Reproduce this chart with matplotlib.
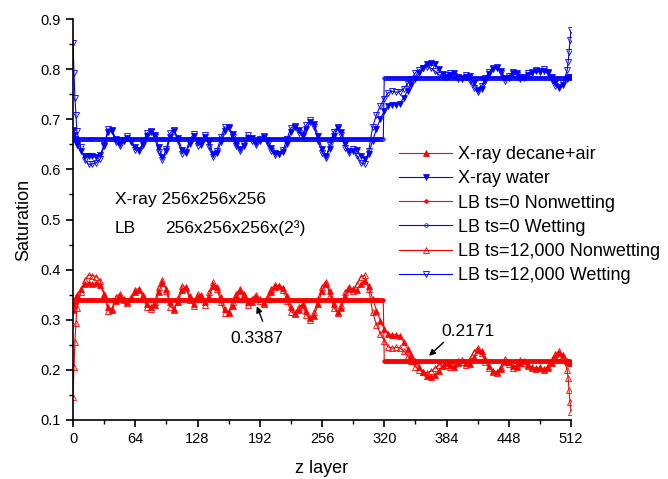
import numpy as np
import matplotlib
matplotlib.use('Agg')
import matplotlib.pyplot as plt

plt.rcParams['font.family'] = ['Liberation Sans', 'DejaVu Sans']

# layer grid: first few layers, every 4th layer, last few layers
z = np.array([0, 1, 2, 3] + list(range(4, 509, 4)) + [509, 510, 511, 512])

# X-ray decane+air (nonwetting)
xray_nw = [0.320, 0.330, 0.338, 0.345,
           0.350, 0.362, 0.372, 0.373, 0.372, 0.374, 0.370, 0.350, 0.325, 0.320,
           0.338, 0.348, 0.342, 0.336, 0.342, 0.355, 0.360, 0.350, 0.332, 0.325,
           0.330, 0.355, 0.374, 0.362, 0.335, 0.322, 0.336, 0.360, 0.366, 0.348,
           0.332, 0.345, 0.350, 0.335, 0.345, 0.368, 0.366, 0.345, 0.322, 0.314,
           0.328, 0.348, 0.358, 0.352, 0.336, 0.336, 0.346, 0.342, 0.334, 0.342,
           0.356, 0.366, 0.368, 0.364, 0.348, 0.325, 0.314, 0.320, 0.332, 0.318,
           0.304, 0.308, 0.332, 0.358, 0.372, 0.358, 0.332, 0.316, 0.324, 0.348,
           0.362, 0.362, 0.360, 0.372, 0.378, 0.368, 0.342, 0.318, 0.298, 0.282,
           0.272, 0.270, 0.270, 0.268, 0.256, 0.242, 0.230, 0.218, 0.206, 0.196,
           0.188, 0.186, 0.189, 0.198, 0.208, 0.214, 0.210, 0.206, 0.214, 0.219,
           0.214, 0.212, 0.226, 0.240, 0.238, 0.222, 0.208, 0.198, 0.196, 0.202,
           0.216, 0.216, 0.207, 0.206, 0.214, 0.217, 0.210, 0.206, 0.203, 0.203,
           0.202, 0.204, 0.214, 0.226, 0.234, 0.230, 0.218,
           0.216, 0.215, 0.214, 0.214]

# X-ray water (wetting)
xray_w = [0.678, 0.668, 0.660, 0.654,
          0.649, 0.637, 0.627, 0.626, 0.627, 0.625, 0.629, 0.649, 0.674, 0.679,
          0.661, 0.651, 0.657, 0.663, 0.657, 0.644, 0.639, 0.649, 0.667, 0.674,
          0.669, 0.644, 0.625, 0.637, 0.664, 0.677, 0.663, 0.639, 0.633, 0.651,
          0.667, 0.654, 0.649, 0.664, 0.654, 0.631, 0.633, 0.654, 0.677, 0.685,
          0.671, 0.651, 0.641, 0.647, 0.663, 0.663, 0.653, 0.657, 0.665, 0.657,
          0.643, 0.633, 0.631, 0.635, 0.651, 0.674, 0.685, 0.679, 0.667, 0.681,
          0.695, 0.691, 0.667, 0.641, 0.627, 0.641, 0.667, 0.683, 0.675, 0.651,
          0.637, 0.637, 0.639, 0.627, 0.621, 0.631, 0.657, 0.681, 0.701, 0.717,
          0.727, 0.729, 0.729, 0.731, 0.743, 0.757, 0.769, 0.781, 0.793, 0.803,
          0.811, 0.813, 0.810, 0.801, 0.791, 0.785, 0.789, 0.793, 0.785, 0.780,
          0.785, 0.787, 0.773, 0.759, 0.761, 0.777, 0.791, 0.801, 0.803, 0.797,
          0.783, 0.783, 0.792, 0.793, 0.785, 0.782, 0.789, 0.793, 0.796, 0.796,
          0.797, 0.795, 0.785, 0.773, 0.765, 0.769, 0.781,
          0.783, 0.784, 0.785, 0.785]

# LB ts=12,000 nonwetting
lb12_nw = [0.146, 0.206, 0.256, 0.293,
           0.323, 0.355, 0.380, 0.389, 0.388, 0.386, 0.378, 0.352, 0.318, 0.322,
           0.345, 0.352, 0.340, 0.333, 0.345, 0.360, 0.362, 0.345, 0.326, 0.322,
           0.335, 0.365, 0.380, 0.358, 0.326, 0.320, 0.343, 0.368, 0.364, 0.340,
           0.328, 0.352, 0.346, 0.330, 0.355, 0.375, 0.362, 0.335, 0.314, 0.316,
           0.335, 0.352, 0.362, 0.348, 0.330, 0.342, 0.350, 0.338, 0.332, 0.348,
           0.362, 0.370, 0.368, 0.360, 0.338, 0.316, 0.312, 0.326, 0.330, 0.310,
           0.300, 0.315, 0.342, 0.366, 0.376, 0.350, 0.324, 0.314, 0.330, 0.356,
           0.366, 0.358, 0.372, 0.386, 0.389, 0.362, 0.315, 0.290, 0.272, 0.258,
           0.246, 0.243, 0.245, 0.244, 0.238, 0.228, 0.218, 0.206, 0.200, 0.196,
           0.194, 0.197, 0.203, 0.210, 0.214, 0.210, 0.206, 0.212, 0.218, 0.216,
           0.210, 0.222, 0.236, 0.244, 0.233, 0.216, 0.204, 0.196, 0.194, 0.206,
           0.222, 0.212, 0.204, 0.210, 0.219, 0.214, 0.207, 0.204, 0.201, 0.205,
           0.199, 0.207, 0.220, 0.232, 0.237, 0.226, 0.200,
           0.184, 0.160, 0.136, 0.116]

# LB ts=12,000 wetting
lb12_w = [0.852, 0.792, 0.742, 0.708,
          0.676, 0.644, 0.619, 0.610, 0.611, 0.613, 0.621, 0.647, 0.681, 0.677,
          0.654, 0.647, 0.659, 0.666, 0.654, 0.639, 0.637, 0.654, 0.673, 0.677,
          0.664, 0.634, 0.619, 0.641, 0.673, 0.679, 0.656, 0.631, 0.635, 0.659,
          0.671, 0.647, 0.653, 0.669, 0.644, 0.624, 0.637, 0.664, 0.685, 0.683,
          0.664, 0.647, 0.637, 0.651, 0.669, 0.657, 0.649, 0.661, 0.667, 0.651,
          0.637, 0.629, 0.631, 0.639, 0.661, 0.683, 0.687, 0.673, 0.669, 0.689,
          0.699, 0.684, 0.657, 0.633, 0.623, 0.649, 0.675, 0.685, 0.669, 0.643,
          0.633, 0.641, 0.627, 0.613, 0.610, 0.637, 0.684, 0.709, 0.727, 0.741,
          0.753, 0.756, 0.754, 0.755, 0.761, 0.771, 0.781, 0.793, 0.799, 0.803,
          0.805, 0.802, 0.796, 0.789, 0.785, 0.789, 0.793, 0.787, 0.781, 0.783,
          0.789, 0.777, 0.763, 0.755, 0.766, 0.783, 0.795, 0.803, 0.805, 0.793,
          0.777, 0.787, 0.795, 0.789, 0.780, 0.785, 0.792, 0.795, 0.798, 0.794,
          0.800, 0.792, 0.779, 0.767, 0.762, 0.773, 0.798,
          0.814, 0.834, 0.858, 0.878]

# LB ts=0: uniform saturation in each of the two zones (split at layer 320)
zone_edge = 320
lb0_nw_levels = [0.3387, 0.2171]
lb0_w_levels = [0.6613, 0.7829]

z0 = np.arange(0, 512)
lb0_nw = np.where(z0 < zone_edge, lb0_nw_levels[0], lb0_nw_levels[1])
lb0_w = np.where(z0 < zone_edge, lb0_w_levels[0], lb0_w_levels[1])

red = '#ff0000'
blue = '#0000ff'

fig = plt.figure(figsize=(6.68, 4.79), dpi=100)
ax = fig.add_axes([0.1093, 0.1232, 0.7455, 0.8371])

ax.plot(z, xray_nw, color=red, lw=0.8, marker='^', ms=3.8, mew=0.5,
        label='X-ray decane+air')
ax.plot(z, xray_w, color=blue, lw=0.8, marker='v', ms=3.8, mew=0.5,
        label='X-ray water')
ax.plot(z0, lb0_nw, color=red, lw=0.8, marker='o', ms=2.6, mew=0.5,
        label='LB ts=0 Nonwetting')
ax.plot(z0, lb0_w, color=blue, lw=0.8, marker='o', ms=2.6, mew=0.5,
        mfc='none', label='LB ts=0 Wetting')
ax.plot(z, lb12_nw, color=red, lw=0.8, marker='^', ms=4.2, mew=0.6,
        mfc='none', label='LB ts=12,000 Nonwetting')
ax.plot(z, lb12_w, color=blue, lw=0.8, marker='v', ms=4.2, mew=0.6,
        mfc='none', label='LB ts=12,000 Wetting')

ax.set_xlim(0, 512)
ax.set_ylim(0.1, 0.9)
ax.set_xticks(np.arange(0, 513, 64))
ax.set_xticks(np.arange(0, 513, 32), minor=True)
ax.set_yticks(np.arange(0.1, 0.91, 0.1))
ax.set_yticks(np.arange(0.1, 0.91, 0.05), minor=True)
ax.set_yticklabels(['%.1f' % v for v in np.arange(0.1, 0.91, 0.1)])
ax.spines['top'].set_visible(False)
ax.spines['right'].set_visible(False)
ax.spines['left'].set_linewidth(1.2)
ax.spines['bottom'].set_linewidth(1.2)
ax.tick_params(which='major', direction='out', length=5, width=1.2,
               labelsize=10.5)
ax.tick_params(which='minor', direction='out', length=3, width=1.0)

ax.set_xlabel('z layer', fontsize=13, labelpad=10)
ax.set_ylabel('Saturation', fontsize=13, labelpad=6)

ax.text(43, 0.539, 'X-ray 256x256x256', fontsize=12.5, va='center')
ax.text(43, 0.483, 'LB', fontsize=12.5, va='center')
ax.text(95, 0.483, '256x256x256x(2³)', fontsize=12.5, va='center')

arrow = dict(arrowstyle='-|>', color='black', lw=1, mutation_scale=9,
             shrinkA=0, shrinkB=0)
ax.annotate('', xy=(189, 0.327), xytext=(195, 0.297), arrowprops=arrow)
ax.text(189, 0.262, '0.3387', fontsize=12.5, ha='center', va='center')
ax.annotate('', xy=(366, 0.228), xytext=(381, 0.255), arrowprops=arrow)
ax.text(406, 0.276, '0.2171', fontsize=12.5, ha='center', va='center')

ax.legend(loc='upper left', bbox_to_anchor=(0.598, 0.695),
          bbox_transform=fig.transFigure, frameon=False, fontsize=13,
          numpoints=1, handlelength=2.9, handletextpad=0.35, labelspacing=0.4,
          borderpad=0, borderaxespad=0)

fig.savefig('out.png', dpi=100)
